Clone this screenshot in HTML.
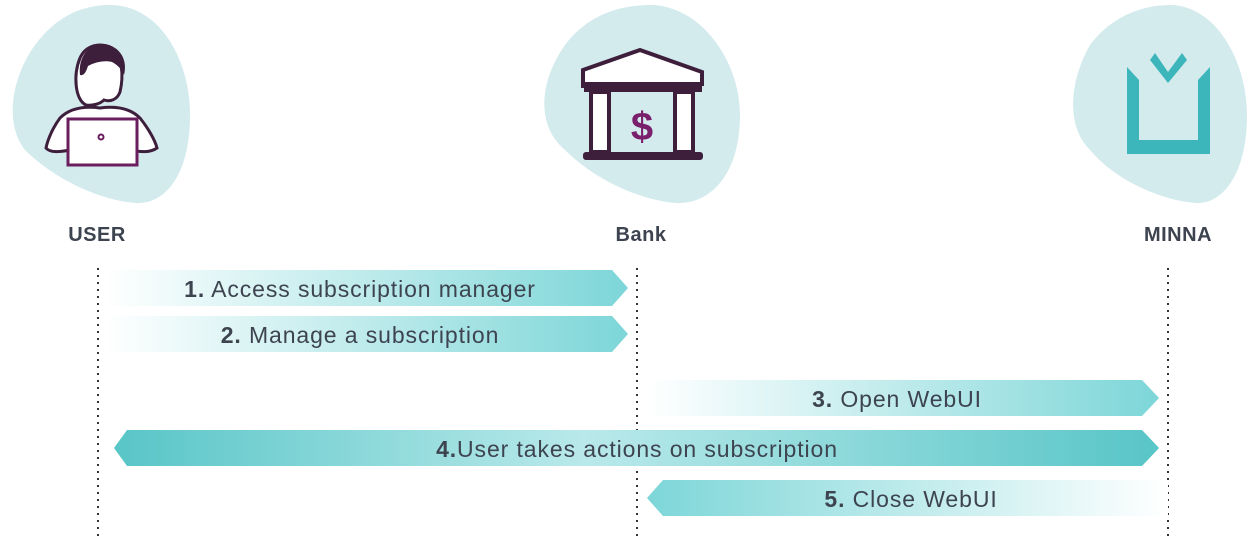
<!DOCTYPE html>
<html><head><meta charset="utf-8"><style>
html,body{margin:0;padding:0;background:#fff;}
svg{display:block;}
text{font-family:"Liberation Sans",sans-serif;fill:#3d4450;}
</style></head><body>
<svg width="1251" height="536" viewBox="0 0 1251 536" xmlns="http://www.w3.org/2000/svg">
<defs>
<linearGradient id="gR" x1="0" x2="1" y1="0" y2="0"><stop offset="0" stop-color="#fff"/><stop offset="1" stop-color="#7dd6d8"/></linearGradient>
<linearGradient id="gL" x1="0" x2="1" y1="0" y2="0"><stop offset="0" stop-color="#7dd6d8"/><stop offset="1" stop-color="#fff"/></linearGradient>
<linearGradient id="g4" x1="0" x2="1" y1="0" y2="0"><stop offset="0" stop-color="#58c5c7"/><stop offset="0.45" stop-color="#b9e9ea"/><stop offset="1" stop-color="#58c5c7"/></linearGradient>
</defs>
<path d="M110 5 C160 5 190 60 190 115 C190 175 165 205 135 203 C100 200 55 180 25 150 C5 125 10 80 35 45 C55 18 80 5 110 5Z" fill="#d4ebee"/>
<path d="M650 5 C700 5 740 60 740 115 C740 175 710 205 675 203 C640 200 595 180 565 150 C535 125 540 80 565 45 C585 18 615 5 650 5Z" fill="#d4ebee"/>
<path d="M1170 5 C1215 5 1247 60 1247 115 C1247 175 1222 205 1195 203 C1160 200 1115 180 1090 150 C1065 125 1070 80 1090 45 C1110 18 1140 5 1170 5Z" fill="#d4ebee"/>
<g stroke="#3d1f3c" stroke-width="3" fill="#fff" stroke-linecap="round">
<path d="M86 105 C75 100 73 75 80 58 C86 45 100 42 112 48 C122 56 124 75 120 92 C117 100 110 102 104 100 C100 104 92 106 86 105Z"/>
<path d="M60 118 C70 108 85 106 100 108 C115 106 130 108 140 118 C148 128 155 140 157 148 C150 153 140 152 130 150 L70 150 C60 152 50 153 46 148 C48 138 54 126 60 118Z"/>
</g>
<path d="M80 75 C78 55 90 44 104 44 C120 46 128 60 124 75 C122 70 118 65 112 62 C105 60 95 62 88 66 C86 72 84 76 80 75Z" fill="#3d1f3c"/>
<rect x="68" y="119" width="69" height="46" fill="#fff" stroke="#6b1e5e" stroke-width="3"/>
<circle cx="101" cy="137" r="2.5" fill="none" stroke="#6b1e5e" stroke-width="2"/>
<g stroke="#3d1f3c" stroke-width="4" fill="#fff">
<path d="M583 70 L640 50 L702 72 L702 84 L583 86Z"/>
<rect x="591" y="92" width="18" height="60"/>
<rect x="675" y="92" width="18" height="60"/>
</g>
<rect x="584" y="82" width="118" height="10" fill="#3d1f3c"/>
<rect x="583" y="152" width="120" height="8" rx="3" fill="#3d1f3c"/>
<text x="642" y="140" font-size="40" font-weight="bold" text-anchor="middle" style="fill:#7a1f6c">$</text>
<path d="M1127 67 L1139 80 L1139 140 L1198 140 L1198 80 L1210 67 L1210 154 L1127 154Z" fill="#3cb6ba"/>
<path d="M1150 60 L1155 53 L1168 72 L1182 53 L1187 60 L1168 83Z" fill="#3cb6ba"/>
<g font-size="20" font-weight="bold" text-anchor="middle" letter-spacing="0.5">
<text x="97" y="241">USER</text>
<text x="641" y="241">Bank</text>
<text x="1178" y="241">MINNA</text>
</g>
<g stroke="#333" stroke-width="2" stroke-dasharray="2,5">
<line x1="98" y1="268" x2="98" y2="536"/>
<line x1="637" y1="268" x2="637" y2="536"/>
<line x1="1168" y1="268" x2="1168" y2="536"/>
</g>
<path d="M105 270 L612 270 L628 288 L612 306 L105 306Z" fill="url(#gR)"/>
<path d="M105 316 L612 316 L628 334 L612 352 L105 352Z" fill="url(#gR)"/>
<path d="M647 380 L1142 380 L1159 398 L1142 416 L647 416Z" fill="url(#gR)"/>
<path d="M114 448 L127 430 L1142 430 L1159 448 L1142 466 L127 466Z" fill="url(#g4)"/>
<path d="M647 498 L663 480 L1168 480 L1168 516 L663 516Z" fill="url(#gL)"/>
<g font-size="23" letter-spacing="0.9" text-anchor="middle">
<text x="360" y="297"><tspan font-weight="bold">1.</tspan> Access subscription manager</text>
<text x="360" y="343"><tspan font-weight="bold">2.</tspan> Manage a subscription</text>
<text x="897" y="407"><tspan font-weight="bold">3.</tspan> Open WebUI</text>
<text x="637" y="457"><tspan font-weight="bold">4.</tspan>User takes actions on subscription</text>
<text x="911" y="507"><tspan font-weight="bold">5.</tspan> Close WebUI</text>
</g>
</svg>
</body></html>
